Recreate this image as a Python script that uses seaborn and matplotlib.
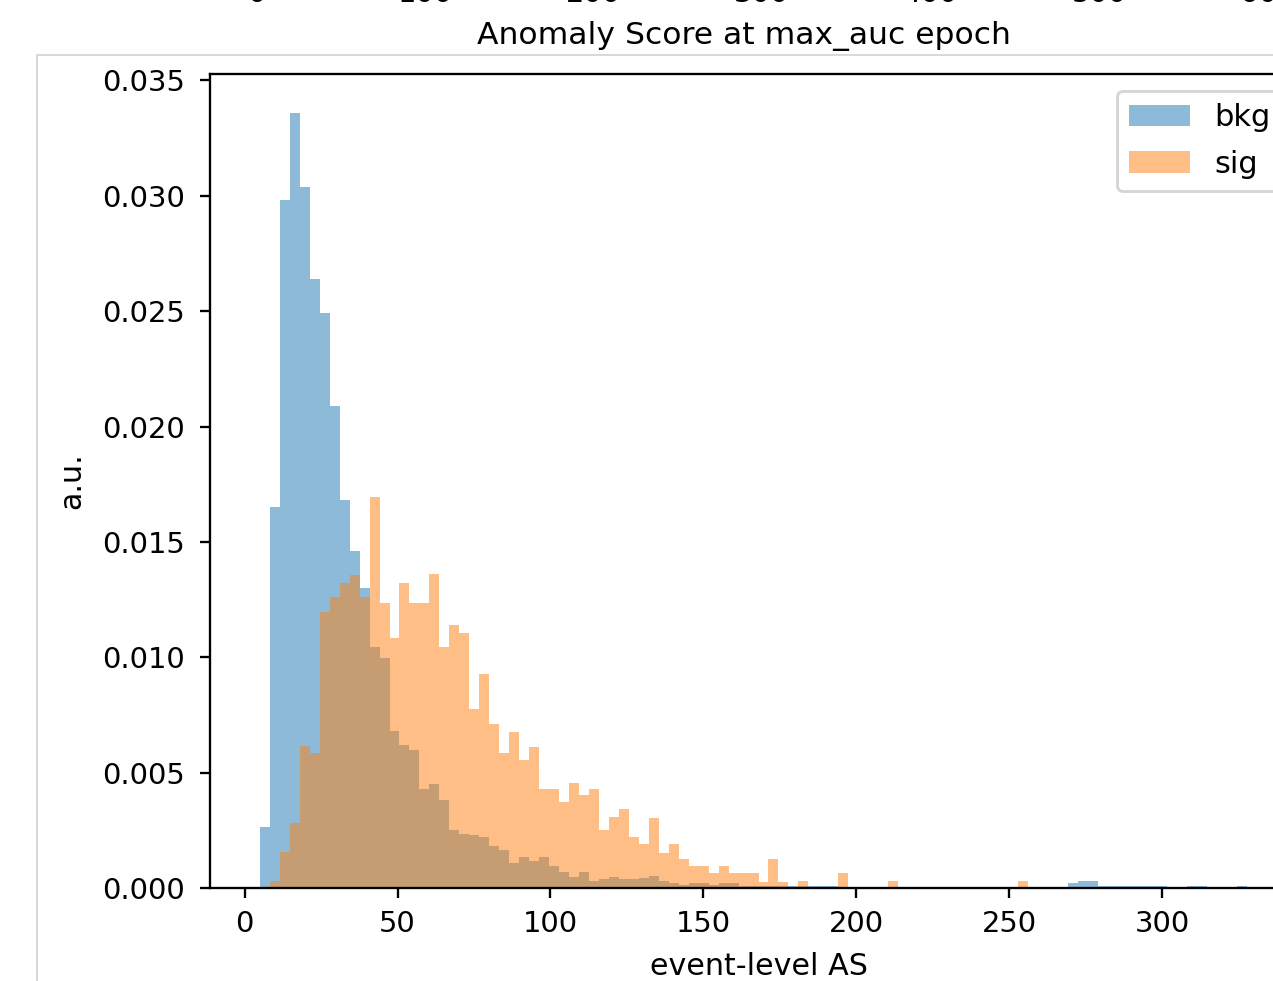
import numpy as np
import pandas as pd
import matplotlib
matplotlib.use("Agg")
import matplotlib.pyplot as plt
from matplotlib.lines import Line2D
import seaborn as sns

# ---- data (density per bin) ----
bin_lo, bin_hi, n_bins = 5.0, 331.0, 100

bkg_heights = [
    0.00265, 0.0165, 0.0298, 0.0336, 0.0304, 0.0264, 0.0249, 0.0209, 0.0168, 0.0146,
    0.0130, 0.01045, 0.00997, 0.0068, 0.0062, 0.0060, 0.0043, 0.0045, 0.0038, 0.0025,
    0.00233, 0.0023, 0.0022, 0.00184, 0.00165, 0.00107, 0.00136, 0.00117, 0.00133, 0.00095,
    0.00069, 0.00049, 0.00069, 0.00032, 0.00038, 0.00049, 0.0004, 0.00038, 0.00045, 0.0005,
    0.0003, 0.0002, 0.00015, 0.0002, 0.0002, 0.00015, 0.0002, 0.0002, 0.0001, 0.0001,
    0.0001, 0.0001, 0.0001, 0.0001, 0.0001, 0.0001, 0.0001, 0.0001, 0.0, 0.0,
    0.0, 0.0, 0.0, 0.0, 0.0, 0.0, 0.0, 0.0, 0.0, 0.0,
    0.0, 0.0, 0.0, 0.0, 0.0, 0.0, 0.0, 0.0, 0.0, 0.0,
    0.0, 0.0002, 0.0003, 0.0003, 0.0001, 0.0001, 0.0001, 0.0001, 0.0001, 0.0001,
    0.0001, 0.0, 0.0, 0.0001, 0.0001, 0.0, 0.0, 0.0, 0.0001, 0.0,
]

sig_heights = [
    0.0, 0.00029, 0.00155, 0.00283, 0.00614, 0.00585, 0.01197, 0.01262, 0.01321, 0.01358,
    0.01262, 0.01696, 0.01237, 0.01084, 0.01322, 0.01237, 0.01237, 0.0136, 0.01045, 0.0114,
    0.01107, 0.00775, 0.00927, 0.0071, 0.00587, 0.00678, 0.00555, 0.0061, 0.00429, 0.00428,
    0.00373, 0.00457, 0.00402, 0.00431, 0.0025, 0.00306, 0.00344, 0.0022, 0.0019, 0.00305,
    0.00153, 0.0019, 0.00125, 0.00095, 0.00095, 0.00067, 0.00095, 0.00067, 0.00067, 0.00067,
    0.00028, 0.00125, 0.00028, 0.0, 0.00029, 0.0, 0.0, 0.0, 0.00067, 0.0,
    0.0, 0.0, 0.0, 0.00029, 0.0, 0.0, 0.0, 0.0, 0.0, 0.0,
    0.0, 0.0, 0.0, 0.0, 0.0, 0.0, 0.00029, 0.0, 0.0, 0.0,
    0.0, 0.0, 0.0, 0.0, 0.0, 0.0, 0.0, 0.0, 0.0, 0.0,
    0.0, 0.0, 0.0, 0.0, 0.0, 0.0, 0.0, 0.0, 0.0, 0.0,
]

series_labels = ["bkg", "sig"]
title_text = "Anomaly Score at max_auc epoch"
xlabel_text = "event-level AS"
ylabel_text = "a.u."

# partial axis of the panel above (only its tick labels are visible)
top_ticks = [0, 100, 200, 300, 400, 500, 600]

# ---- figure ----
W, H, DPI = 1273, 981, 209
fig = plt.figure(figsize=(W / DPI, H / DPI), dpi=DPI)

edges = np.linspace(bin_lo, bin_hi, n_bins + 1)
centers = 0.5 * (edges[:-1] + edges[1:])

ax_left, ax_right = 210, 1307
ax = fig.add_axes([ax_left / W, 1 - 888 / H, (ax_right - ax_left) / W, (888 - 74) / H])
for heights, lab, col in zip([bkg_heights, sig_heights], series_labels, ["C0", "C1"]):
    df = pd.DataFrame({"score": centers, "w": heights})
    sns.histplot(data=df, x="score", weights="w", bins=list(edges), stat="count",
                 color=col, alpha=0.5, linewidth=0, label=lab, ax=ax)
ax.set_ylim(0, max(bkg_heights) * 1.05)
ax.set_xlim(bin_lo - 0.05 * (bin_hi - bin_lo), bin_hi + 0.05 * (bin_hi - bin_lo))
ax.tick_params(axis="y", pad=5.0)
ax.tick_params(axis="x", pad=4.0)
ax.set_title(title_text, fontsize=10.8, x=(744 - ax_left) / (ax_right - ax_left), pad=10.5)
ax.set_xlabel(xlabel_text, fontsize=10.4, labelpad=5.0)
ax.set_ylabel(ylabel_text, fontsize=10.4, labelpad=5.5)
ax.legend(loc="upper left", bbox_to_anchor=(1117 / W, 1 - 91 / H),
          bbox_transform=fig.transFigure, borderaxespad=0.0,
          fontsize=10.5, labelspacing=0.57, handletextpad=0.78)

# upper panel, mostly outside the canvas
ax_top = fig.add_axes([ax_left / W, 1 + 40 / H, (1301 - ax_left) / W, 0.3])
ax_top.set_xlim(-27.6, 620)
ax_top.set_xticks(top_ticks)
ax_top.set_yticks([])

# notebook output frame
frame_col = "#d4d4d4"
fig.add_artist(Line2D([37 / W, 37 / W], [0, 1 - 55 / H], color=frame_col, lw=0.6,
                      transform=fig.transFigure))
fig.add_artist(Line2D([37 / W, 1], [1 - 55 / H, 1 - 55 / H], color=frame_col, lw=0.6,
                      transform=fig.transFigure))

fig.savefig("out.png", dpi=DPI)
